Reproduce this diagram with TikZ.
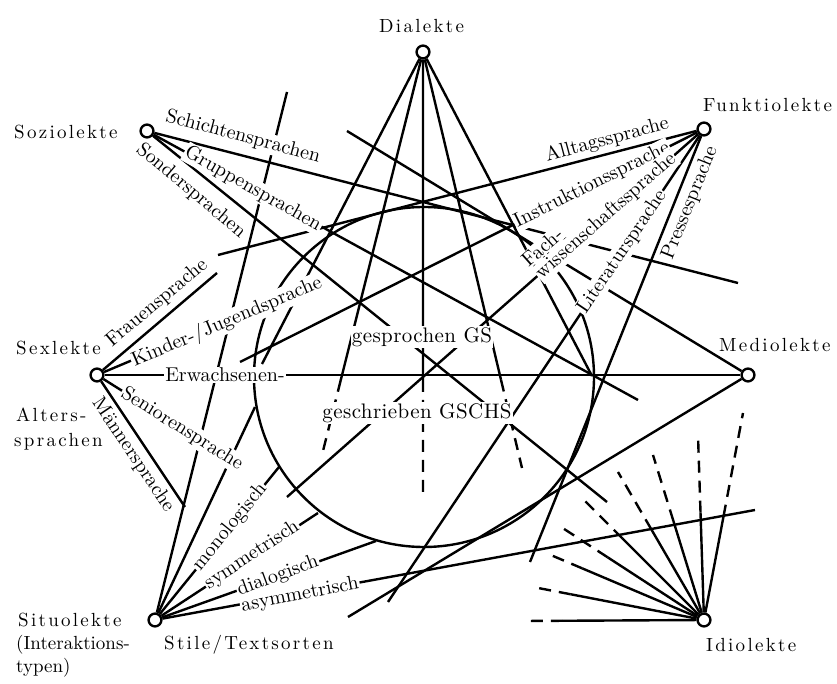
\documentclass[tikz,border=0pt]{standalone}
\usepackage{fontspec}
\setmainfont{lmroman10-regular.otf}
\usetikzlibrary{calc}
\begin{document}
\begin{tikzpicture}[x=0.5pt,y=-0.5pt,line width=1.2pt,
  vert/.style={circle,draw,fill=white,minimum size=6.4pt,inner sep=0pt,line width=1.2pt},
  lab/.style={fill=white,inner sep=0.6pt,font=\fontsize{10}{12}\selectfont},
  clab/.style={fill=white,inner sep=0.6pt,font=\fontsize{10.5}{12}\selectfont\addfontfeature{LetterSpace=2}},
  nlab/.style={inner sep=0pt,anchor=base west,font=\fontsize{9.5}{12}\selectfont\addfontfeature{LetterSpace=12}},
  plab/.style={inner sep=0pt,anchor=base west,font=\fontsize{9.5}{12}\selectfont},
  dsh/.style={dash pattern=on 6pt off 4pt}]
\useasboundingbox (0,0) rectangle (837,684);

% main nodes
\node[vert] (D) at (423,52) {};
\node[vert] (S) at (147,131) {};
\node[vert] (F) at (704,129) {};
\node[vert] (X) at (97,375) {};
\node[vert] (M) at (748,375) {};
\node[vert] (T) at (155,620) {};
\node[vert] (I) at (704,620) {};

% free ends
\coordinate (sch) at (738,283);
\coordinate (grp) at (638,400);
\coordinate (son) at (607,502);
\coordinate (all) at (218,255);
\coordinate (ins) at (240,362);
\coordinate (wis) at (287,497);
\coordinate (lit) at (388,602);
\coordinate (pre) at (530,562);
\coordinate (d1) at (262,364);
\coordinate (d2) at (322,455);
\coordinate (d3) at (423,495);
\coordinate (d4) at (522,468);
\coordinate (d5) at (592,376);
\coordinate (fr) at (217,273);
\coordinate (kj) at (318,282);
\coordinate (sen) at (240,465);
\coordinate (man) at (185,507);
\coordinate (ma) at (347,131);
\coordinate (mb) at (348,617);
\coordinate (tl) at (287,92);
\coordinate (tb) at (255,407);
\coordinate (mono) at (279,467);
\coordinate (sym) at (318,513);
\coordinate (dia) at (376,541);
\coordinate (asy) at (755,510);
\coordinate (i1) at (523,621);
\coordinate (i2) at (533,587);
\coordinate (i3) at (546,553);
\coordinate (i4) at (558,525);
\coordinate (i5) at (582,498);
\coordinate (i6) at (618,472);
\coordinate (i7) at (653,455);
\coordinate (i8) at (698,435);
\coordinate (i9) at (743,413);

% central circle
\draw (424,377) circle[radius=85pt];

% Soziolekte
\draw (S) -- (sch);
\draw (S) -- (grp);
\draw (S) -- (son);
% Funktiolekte
\draw (F) -- (all);
\draw (F) -- (ins);
\draw (F) -- (wis);
\draw (F) -- (lit);
\draw (F) -- (pre);
% Dialekte
\draw (D) -- (d1);
\draw (D) -- ($(D)!0.814!(d2)$);
\draw[dsh] ($(D)!0.814!(d2)$) -- (d2);
\draw (D) -- ($(D)!0.740!(d3)$);
\draw[dsh] ($(D)!0.740!(d3)$) -- (d3);
\draw (D) -- ($(D)!0.788!(d4)$);
\draw[dsh] ($(D)!0.788!(d4)$) -- (d4);
\draw (D) -- (d5);
% Sexlekte
\draw (X) -- (fr);
\draw (X) -- (kj);
\draw (X) -- (M);
\draw (X) -- (sen);
\draw (X) -- (man);
% Mediolekte
\draw (M) -- (ma);
\draw (M) -- (mb);
% Situolekte
\draw (T) -- (tl);
\draw (T) -- (tb);
\draw (T) -- (mono);
\draw (T) -- (sym);
\draw (T) -- (dia);
\draw (T) -- (asy);
% Idiolekte
\foreach \e/\f in {i1/0.78,i2/0.78,i3/0.77,i4/0.66,i5/0.67,i6/0.61,i7/0.60,i8/0.58,i9/0.50}{
  \draw (I) -- ($(I)!\f!(\e)$);
  \draw[dsh] ($(I)!\f!(\e)$) -- (\e);
}

% line labels
\node[lab,rotate=-15] (lSch) at (243,137) {Schichtensprachen};
\node[lab,rotate=-29.5] (lGrp) at (253,189) {Gruppensprachen};
\node[lab,rotate=-40] (lSon) at (191,191) {Sondersprachen};
\node[lab,rotate=15] (lAll) at (607,140) {Alltagssprache};
\node[lab,rotate=26.5] (lIns) at (592,185) {Instruktionssprache};
\node[lab,rotate=41.5] (lFach) at (542,247) {Fach-};
\node[lab,rotate=41.5] (lWis) at (606,216) {wissenschaftssprache};
\node[lab,rotate=56] (lLit) at (622,252) {Literatursprache};
\node[lab,rotate=68] (lPre) at (690,203) {Pressesprache};
\node[lab,rotate=40] (lFr) at (157,303) {Frauensprache};
\node[lab,rotate=23] (lKJ) at (227,322) {Kinder-/Jugendsprache};
\node[lab] (lErw) at (225,375) {Erwachsenen-};
\node[lab,rotate=-32] (lSen) at (182,429) {Seniorensprache};
\node[lab,rotate=-56] (lMan) at (133,455) {Männersprache};
\node[lab,rotate=51] (lMono) at (230,527) {monologisch};
\node[lab,rotate=33.5] (lSym) at (252,555) {symmetrisch};
\node[lab,rotate=20] (lDia) at (278,576) {dialogisch};
\node[lab,rotate=11] (lAsy) at (300,595) {asymmetrisch};
\node[clab] (lGS) at (422,337) {gesprochen GS};
\node[clab] (lGSCHS) at (417,413) {geschrieben GSCHS};

% node labels
\node[nlab] (tD) at (378,33) {Dialekte};
\node[nlab] (tS) at (13,139) {Soziolekte};
\node[nlab] (tF) at (702,112) {Funktiolekte};
\node[nlab] (tX) at (15,355) {Sexlekte};
\node[nlab] (tA1) at (15,422) {Alters-};
\node[nlab] (tA2) at (13,447) {sprachen};
\node[nlab] (tM) at (718,352) {Mediolekte};
\node[nlab] (tT1) at (17,627) {Situolekte};
\node[plab] (tT2) at (15,650) {(Interaktions-};
\node[plab] (tT3) at (15,673) {typen)};
\node[nlab] (tSt) at (163,650) {Stile/Textsorten};
\node[nlab] (tI) at (705,652) {Idiolekte};
\end{tikzpicture}
\end{document}
